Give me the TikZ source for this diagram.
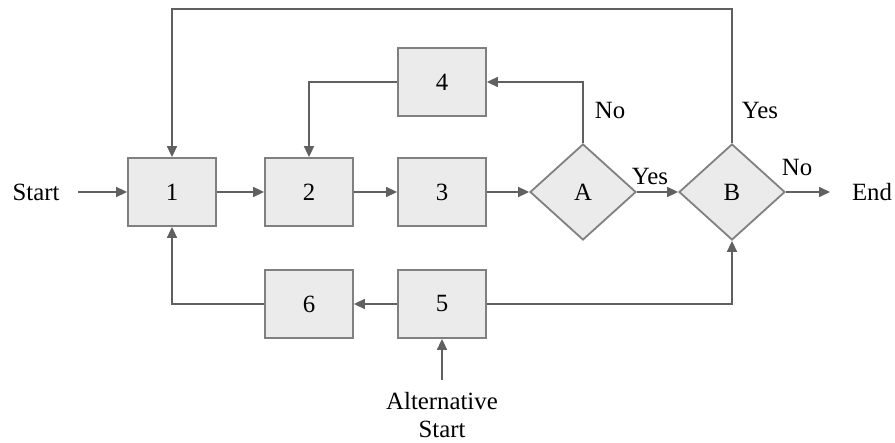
\documentclass[tikz,border=0pt]{standalone}
\usepackage{fontspec}
\setmainfont{Liberation Serif}
\usetikzlibrary{shapes.geometric,arrows.meta}
\definecolor{boxfill}{HTML}{EBEBEB}
\definecolor{boxline}{HTML}{808080}
\definecolor{arr}{HTML}{606060}
\begin{document}
\begin{tikzpicture}[x=0.5pt,y=-0.5pt,
  box/.style={draw=boxline,fill=boxfill,line width=0.9pt,minimum width=44pt,minimum height=34pt,inner sep=0pt,font=\fontsize{12.4}{14}\selectfont},
  dec/.style={draw=boxline,fill=boxfill,line width=0.9pt,diamond,minimum width=53pt,minimum height=48pt,inner sep=0pt,font=\fontsize{12.4}{14}\selectfont},
  lbl/.style={font=\fontsize{12.4}{14}\selectfont,inner sep=1pt},
  conn/.style={draw=arr,line width=0.8pt,-{Triangle[length=5.5pt,width=5pt]}}]
\useasboundingbox (0,0) rectangle (895,443);
\node[box] (n1) at (172,192) {1};
\node[box] (n2) at (309,192) {2};
\node[box] (n3) at (442,192) {3};
\node[box] (n4) at (442,82) {4};
\node[box] (n5) at (442,304) {5};
\node[box] (n6) at (309,304) {6};
\node[dec] (A) at (583,192) {A};
\node[dec] (B) at (732,192) {B};
\node[lbl] (start) at (36,192) {Start};
\node[lbl] (end) at (872,192) {End};
\node[lbl,align=center] (alt) at (442,415) {Alternative\\Start};
\coordinate (altend) at (442,380);
\node[lbl] (yesA) at (650,177) {Yes};
\node[lbl] (noA) at (610,111) {No};
\node[lbl] (yesB) at (760,111) {Yes};
\node[lbl] (noB) at (797,168) {No};
\coordinate (s0) at (78,192);
\coordinate (e0) at (830,192);
\draw[conn] (s0) -- (n1);
\draw[conn] (n1) -- (n2);
\draw[conn] (n2) -- (n3);
\draw[conn] (n3) -- (A);
\draw[conn] (A) -- (B);
\draw[conn] (B.east) -- (e0);
\draw[conn] (A.north) |- (n4.east);
\draw[conn] (n4.west) -| (n2.north);
\draw[conn] (B.north) -- ++(0,-134) -| (n1.north);
\draw[conn] (n5.east) -| (B.south);
\draw[conn] (n5) -- (n6);
\draw[conn] (n6.west) -| (n1.south);
\draw[conn] (altend) -- (n5.south);
\end{tikzpicture}
\end{document}
